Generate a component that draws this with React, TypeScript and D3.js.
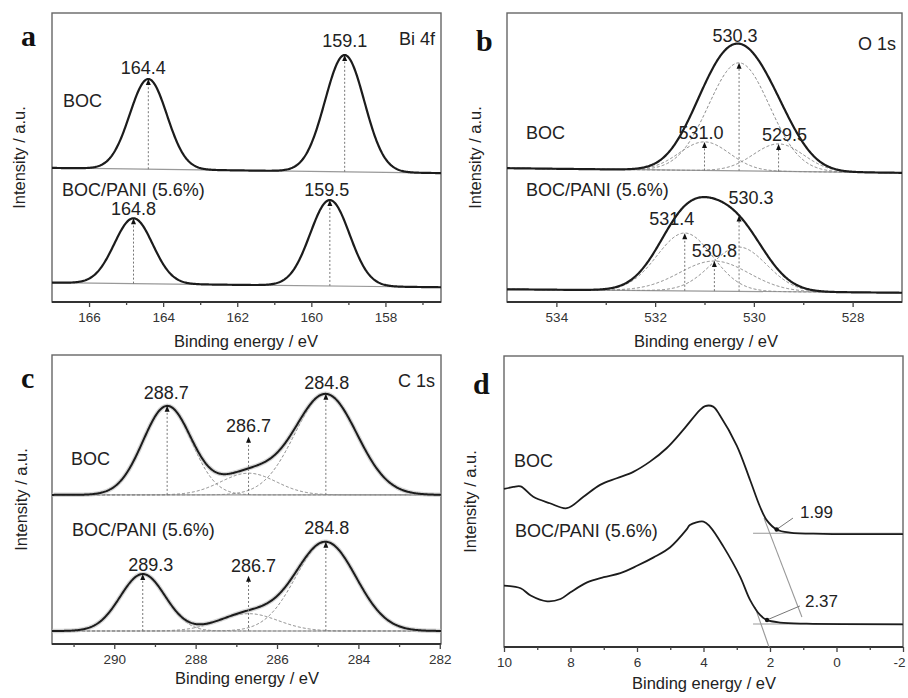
import React, { useEffect, useRef } from "react";
import * as d3 from "d3";

// ---------- data (intensity in arbitrary units, 0 = frame bottom, 100 = frame top) ----------
// peaks are [centre eV, height above background, fwhm eV]

// a: Bi 4f
const biTicks = [166, 164, 162, 160, 158];
const biMinor = [165, 163, 161, 159, 157];
const biBocBg = [46.4, 44.6];
const biBocPeaks = [[164.4, 31.2, 1.18], [159.1, 40.4, 1.25]];
const biBocMarks = [{ e: 164.4, text: "164.4" }, { e: 159.1, text: "159.1" }];
const biPaniBg = [6.7, 5.1];
const biPaniPeaks = [[164.8, 22.6, 1.22], [159.5, 29.7, 1.25]];
const biPaniMarks = [{ e: 164.8, text: "164.8" }, { e: 159.5, text: "159.5" }];

// b: O 1s
const oTicks = [534, 532, 530, 528];
const oMinor = [533, 531, 529];
const oBocBg = [46.3, 44.7];
const oBocPeaks = [[530.3, 37.4, 1.45], [531.0, 9.9, 1.2], [529.5, 9.5, 1.2]];
const oBocMarks = [
  { e: 530.3, text: "530.3", tip: 82.8 },
  { e: 531.0, text: "531.0", tip: 55.4 },
  { e: 529.5, text: "529.5", tip: 54.7 },
];
const oPaniBg = [4.4, 3.2];
const oPaniPeaks = [[531.4, 20, 1.32], [530.8, 10.4, 1.65], [530.3, 15.3, 1.32]];
const oPaniMarks = [
  { e: 530.3, text: "530.3" },
  { e: 531.4, text: "531.4", tip: 23.8 },
  { e: 530.8, text: "530.8", tip: 14.2 },
];

// c: C 1s
const cTicks = [290, 288, 286, 284, 282];
const cMinor = [291, 289, 287, 285, 283];
const cBocBg = [51.6, 51.6];
const cBocPeaks = [[288.7, 30.7, 1.4], [286.7, 7.5, 1.6], [284.8, 34.8, 1.8]];
const cBocMarks = [
  { e: 288.7, text: "288.7" },
  { e: 286.7, text: "286.7", tip: 71.7 },
  { e: 284.8, text: "284.8" },
];
const cPaniBg = [4.5, 4.5];
const cPaniPeaks = [[289.3, 19.7, 1.3], [286.7, 6, 1.7], [284.8, 30.7, 1.75]];
const cPaniMarks = [
  { e: 289.3, text: "289.3" },
  { e: 286.7, text: "286.7", tip: 23.6 },
  { e: 284.8, text: "284.8" },
];

// d: valence band
const vbTicks = [10, 8, 6, 4, 2, 0, -2];
const vbMinor = [9, 7, 5, 3, 1, -1];
const vbBocE = [10, 9.72, 9.5, 9.12, 8.62, 8.11, 7.61, 7.11, 6.61, 6.11, 5.61, 5.11, 4.61, 4.11, 3.95, 3.71, 3.5, 3.0, 2.6, 2.3, 2.1, 1.8, 1.4, 0.4, -2];
const vbBocI = [54.3, 55.0, 55.2, 51.6, 49.4, 47.7, 51.6, 55.7, 58.0, 60.2, 63.7, 68.3, 74.6, 81.4, 82.8, 82.6, 79.5, 69.2, 57.4, 48.2, 43.6, 40.4, 39.3, 38.9, 38.8];
const vbPaniE = [10, 9.5, 9.2, 8.7, 8.3, 8.0, 7.5, 7.0, 6.5, 6.0, 5.5, 5.0, 4.5, 4.41, 4.0, 3.8, 3.4, 2.9, 2.6, 2.3, 2.1, 1.7, 0.9, -2];
const vbPaniI = [21.1, 20.2, 17.7, 15.7, 16.5, 18.8, 22.2, 24.0, 25.4, 27.9, 30.8, 34.3, 40.5, 41.9, 43.1, 41.3, 34.5, 24.2, 16.2, 11.0, 9.3, 8.4, 8.0, 7.8];
const vbBocBase = [[2.51, 39.1], [-2, 39.1]];
const vbBocTangent = [[2.18, 44.3], [1.04, 10.3]];
const vbBocOnset = { point: [1.8, 40.4], leader: [1.31, 44.3], text: "1.99" };
const vbPaniBase = [[2.51, 7.9], [-2, 7.9]];
const vbPaniTangent = [[2.45, 13.7], [2.03, 0]];
const vbPaniOnset = { point: [2.09, 9.3], leader: [1.1, 14.1], text: "2.37" };

const sampleNames = ["BOC", "BOC/PANI (5.6%)"];

// ---------- layout ----------
const FONT = "'Liberation Sans', Arial, Helvetica, sans-serif";
const SERIF = "'Liberation Serif', 'Times New Roman', serif";

const gauss = (e: number, c: number, w: number) => Math.exp((-4 * Math.LN2 * (e - c) * (e - c)) / (w * w));

function Axis({ x, y0, major, minor }: any) {
  const ref = useRef<SVGGElement>(null);
  useEffect(() => {
    const g = d3.select(ref.current);
    g.selectAll("*").remove();
    g.append("g").call(d3.axisBottom(x).tickValues(minor).tickSize(3).tickFormat(() => ""));
    const gm = g
      .append("g")
      .call(d3.axisBottom(x).tickValues(major).tickSize(5).tickPadding(5).tickFormat((d: any) => String(d)));
    g.selectAll(".domain").remove();
    g.selectAll("line").attr("stroke", "#444").attr("stroke-width", 1.3);
    gm.selectAll("text")
      .attr("font-family", FONT)
      .attr("font-size", 13.5)
      .attr("fill", "#333")
      // last label sits on the page edge, nudge it inside
      .attr("dx", (d: any) => (x(d) > 895 ? -4 : 0));
  }, [x, major, minor]);
  return <g ref={ref} transform={`translate(0,${y0})`} />;
}

function Frame({ f, letter, letterDy, element, x, major, minor, titleX, titleY, ylabX, children }: any) {
  const cy = (f.y0 + f.y1) / 2;
  return (
    <g>
      <rect x={f.x0} y={f.y0} width={f.x1 - f.x0} height={f.y1 - f.y0} fill="none" stroke="#666" strokeWidth={1.4} />
      <line x1={f.x0} x2={f.x1} y1={f.y1} y2={f.y1} stroke="#333" strokeWidth={2} />
      <Axis x={x} y0={f.y1} major={major} minor={minor} />
      {children}
      <text x={f.x0 - 31} y={f.y0 + letterDy} fontFamily={SERIF} fontWeight="bold" fontSize={30} fill="#111">
        {letter}
      </text>
      {element && (
        <text x={f.x1 - 6} y={f.y0 + (letter === "b" ? 37 : 32)} textAnchor="end" fontFamily={FONT} fontSize={18} fill="#222">
          {element}
        </text>
      )}
      <text x={titleX} y={titleY} textAnchor="middle" fontFamily={FONT} fontSize={16.5} fill="#222">
        Binding energy / eV
      </text>
      <text
        transform={`translate(${ylabX},${cy}) rotate(-90)`}
        textAnchor="middle"
        dy="0.35em"
        fontFamily={FONT}
        fontSize={16.5}
        fill="#222"
      >
        Intensity / a.u.
      </text>
    </g>
  );
}

function Spectrum({ x, y, bg, peaks, marks, offsets, comps, noisy }: any) {
  const [e0, e1] = x.domain();
  const bgAt = (e: number) => bg[0] + ((e - e0) / (e1 - e0)) * (bg[1] - bg[0]);
  const env = (e: number) => bgAt(e) + peaks.reduce((s: number, p: number[]) => s + p[1] * gauss(e, p[0], p[2]), 0);
  const es = d3.range(0, 1.0001, 0.002).map((t) => e0 + t * (e1 - e0));
  const path = (fn: (e: number) => number) =>
    d3
      .line<number>()
      .x((e) => x(e))
      .y((e) => y(fn(e)))(es) as string;
  return (
    <g>
      <line x1={x(e0)} x2={x(e1)} y1={y(bg[0])} y2={y(bg[1])} stroke="#999" strokeWidth={1.2} />
      {comps &&
        peaks.map((p: number[], i: number) => (
          <path
            key={i}
            d={path((e) => bgAt(e) + p[1] * gauss(e, p[0], p[2]))}
            fill="none"
            stroke="#888"
            strokeWidth={1}
            strokeDasharray="3,2"
          />
        ))}
      {noisy && <path d={path(env)} fill="none" stroke="#bbb" strokeWidth={4.5} opacity={0.6} />}
      <path d={path(env)} fill="none" stroke="#1c1c1c" strokeWidth={noisy ? 2 : 2.2} />
      {marks.map((m: any, i: number) => {
        const tip = m.tip ?? env(m.e);
        const px = x(m.e);
        const py = y(tip);
        const [dx, dy] = offsets[i];
        return (
          <g key={m.text + i}>
            <line x1={px} x2={px} y1={y(bgAt(m.e))} y2={py + 5} stroke="#777" strokeWidth={1} strokeDasharray="2,2" />
            <path d={`M${px},${py} L${px - 2.5},${py + 6} L${px + 2.5},${py + 6} Z`} fill="#111" />
            <text x={px + dx} y={py + dy} textAnchor="middle" fontFamily={FONT} fontSize={18} fill="#222">
              {m.text}
            </text>
          </g>
        );
      })}
    </g>
  );
}

const Name = ({ x, y, children }: any) => (
  <text x={x} y={y} fontFamily={FONT} fontSize={18} fill="#222">
    {children}
  </text>
);

export default function App() {
  const fa = { x0: 52, x1: 441, y0: 13, y1: 302 };
  const fb = { x0: 507, x1: 902, y0: 13, y1: 302 };
  const fc = { x0: 52, x1: 441, y0: 355, y1: 644 };
  const fd = { x0: 504, x1: 903, y0: 356, y1: 647 };

  const xa = d3.scaleLinear().domain([167, 156.5]).range([fa.x0, fa.x1]);
  const ya = d3.scaleLinear().domain([0, 100]).range([fa.y1, fa.y0]);
  const xb = d3.scaleLinear().domain([535, 527]).range([fb.x0, fb.x1]);
  const yb = d3.scaleLinear().domain([0, 100]).range([fb.y1, fb.y0]);
  const xc = d3.scaleLinear().domain([291.53, 281.97]).range([fc.x0, fc.x1]);
  const yc = d3.scaleLinear().domain([0, 100]).range([fc.y1, fc.y0]);
  const xd = d3.scaleLinear().domain([10, -2]).range([fd.x0, fd.x1]);
  const yd = d3.scaleLinear().domain([0, 100]).range([fd.y1, fd.y0]);

  const vbLine = (es: number[], is: number[]) =>
    d3
      .line<number>()
      .curve(d3.curveCatmullRom.alpha(0.5))
      .x((e) => xd(e))
      .y((_, i) => yd(is[i]))(es) as string;
  const seg = (pts: number[][], stroke = "#999", w = 1.1) => (
    <line x1={xd(pts[0][0])} y1={yd(pts[0][1])} x2={xd(pts[1][0])} y2={yd(pts[1][1])} stroke={stroke} strokeWidth={w} />
  );
  const onset = (o: any, ldx: number, ldy: number) => (
    <g>
      <line x1={xd(o.point[0])} y1={yd(o.point[1])} x2={xd(o.leader[0])} y2={yd(o.leader[1])} stroke="#777" strokeWidth={1} />
      <circle cx={xd(o.point[0])} cy={yd(o.point[1])} r={2.2} fill="#111" />
      <text x={xd(o.leader[0]) + ldx} y={yd(o.leader[1]) + ldy} fontFamily={FONT} fontSize={17} fill="#222">
        {o.text}
      </text>
    </g>
  );

  return (
    <div style={{ position: "absolute", left: 0, top: 0, background: "#fff" }}>
      <svg width={908} height={698} viewBox="0 0 908 698" style={{ display: "block" }}>
        <rect width={908} height={698} fill="#fff" />

        <Frame f={fa} letter="a" letterDy={33} element="Bi 4f" x={xa} major={biTicks} minor={biMinor} titleX={246} titleY={346.5} ylabX={19}>
          <Spectrum x={xa} y={ya} bg={biBocBg} peaks={biBocPeaks} marks={biBocMarks} offsets={[[-5, -5], [0, -8]]} />
          <Spectrum x={xa} y={ya} bg={biPaniBg} peaks={biPaniPeaks} marks={biPaniMarks} offsets={[[0, -3], [-3, -4]]} />
          <Name x={63} y={106.5}>{sampleNames[0]}</Name>
          <Name x={62} y={196}>{sampleNames[1]}</Name>
        </Frame>

        <Frame f={fb} letter="b" letterDy={38} element="O 1s" x={xb} major={oTicks} minor={oMinor} titleX={706} titleY={346.5} ylabX={475}>
          <Spectrum x={xb} y={yb} bg={oBocBg} peaks={oBocPeaks} marks={oBocMarks} comps offsets={[[-4, -21], [-3.5, -3], [6, -3]]} />
          <Spectrum x={xb} y={yb} bg={oPaniBg} peaks={oPaniPeaks} marks={oPaniMarks} comps offsets={[[12, -11], [-13, -8], [0, -4]]} />
          <Name x={526} y={139}>{sampleNames[0]}</Name>
          <Name x={526} y={196}>{sampleNames[1]}</Name>
        </Frame>

        <Frame f={fc} letter="c" letterDy={33} element="C 1s" x={xc} major={cTicks} minor={cMinor} titleX={247} titleY={684} ylabX={21}>
          <Spectrum x={xc} y={yc} bg={cBocBg} peaks={cBocPeaks} marks={cBocMarks} comps noisy offsets={[[-1, -7], [0, -5], [1, -5]]} />
          <Spectrum x={xc} y={yc} bg={cPaniBg} peaks={cPaniPeaks} marks={cPaniMarks} comps noisy offsets={[[8, -3], [5, -4], [1, -8]]} />
          <Name x={71} y={465}>{sampleNames[0]}</Name>
          <Name x={72} y={536}>{sampleNames[1]}</Name>
        </Frame>

        <Frame f={fd} letter="d" letterDy={38} x={xd} major={vbTicks} minor={vbMinor} titleX={704} titleY={689} ylabX={470}>
          {seg(vbBocBase)}
          {seg(vbBocTangent)}
          {seg(vbPaniBase)}
          {seg(vbPaniTangent)}
          <path d={vbLine(vbBocE, vbBocI)} fill="none" stroke="#1c1c1c" strokeWidth={1.8} strokeLinejoin="round" />
          <path d={vbLine(vbPaniE, vbPaniI)} fill="none" stroke="#1c1c1c" strokeWidth={1.8} strokeLinejoin="round" />
          {onset(vbBocOnset, 7, 0)}
          {onset(vbPaniOnset, 5, 1)}
          <Name x={514} y={467}>{sampleNames[0]}</Name>
          <Name x={515} y={537}>{sampleNames[1]}</Name>
        </Frame>
      </svg>
    </div>
  );
}
